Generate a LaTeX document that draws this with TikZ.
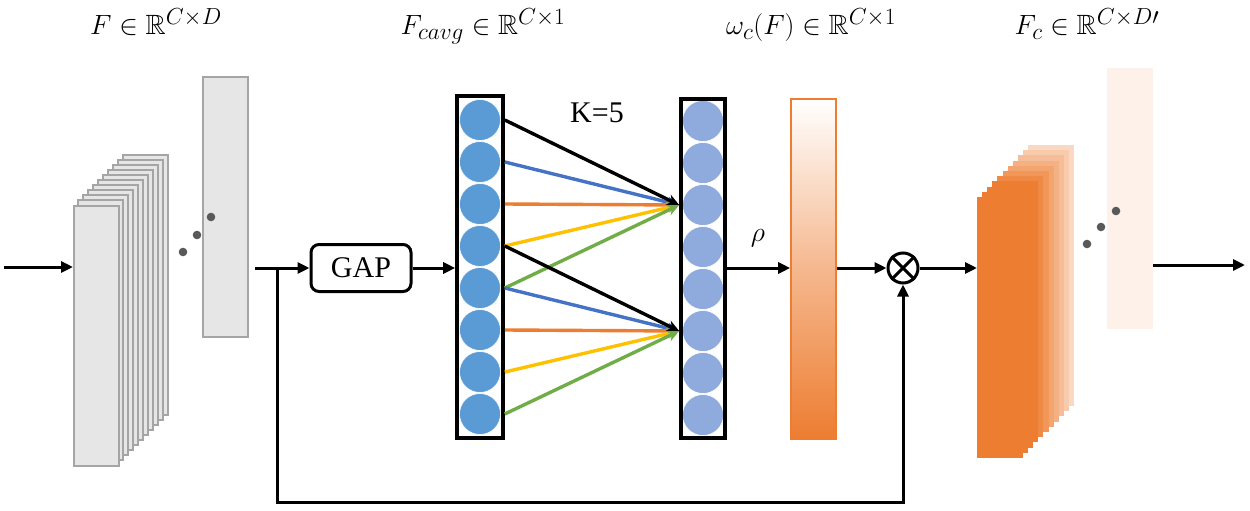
\documentclass[tikz,border=0pt]{standalone}
\usepackage{amssymb}
\usepackage{fontspec}
\newfontfamily\timesf{Liberation Serif}
\usetikzlibrary{arrows.meta,calc}
\definecolor{gfill}{HTML}{E7E6E6}
\definecolor{gline}{HTML}{A5A5A5}
\definecolor{cblue}{HTML}{5B9BD5}
\definecolor{lblue}{HTML}{8FAADC}
\definecolor{aorange}{HTML}{ED7D31}
\definecolor{ablue}{HTML}{4472C4}
\definecolor{ayellow}{HTML}{FFC000}
\definecolor{agreen}{HTML}{70AD47}
\definecolor{dotc}{HTML}{595959}
\definecolor{faint}{HTML}{FDF1EA}
\tikzset{
  sheet/.style={draw=gline, fill=gfill, line width=1.8pt},
  arr/.style={line width=3pt, -{Triangle[length=12pt,width=11pt]}},
  carr/.style={line width=3.4pt, -{Stealth[length=12pt,width=11pt]}},
  ln/.style={line width=3pt},
  colbox/.style={draw, line width=3.6pt, inner sep=0pt},
  ball/.style={circle, inner sep=0pt, minimum size=41pt},
  lab/.style={anchor=base, font=\fontsize{24.88}{30}\selectfont, transform shape, scale=1.12},
  ttext/.style={font=\timesf\fontsize{30}{34}\selectfont}
}
\begin{document}
\begin{tikzpicture}[x=1pt,y=-1pt]
\useasboundingbox (0,0) rectangle (1250,511);

% labels
\node[lab] (lab1) at (156,35) {$F \in \mathbb{R}^{C\times D}$};
\node[lab] (lab2) at (483,35) {$F_{cavg} \in \mathbb{R}^{C\times 1}$};
\node[lab] (lab3) at (811,35) {$\omega_c(F) \in \mathbb{R}^{C\times 1}$};
\node[lab] (lab4) at (1087,35) {$F_c \in \mathbb{R}^{C\times D\prime}$};

% left gray stack
\foreach \i in {10,...,1} {
  \draw[sheet] ($(73,205)+(5*\i,-5*\i)$) rectangle +(45,260);
}
\node[sheet, anchor=north west, inner sep=0pt, minimum width=45pt, minimum height=260pt] (f0) at (73,205) {};
\node[sheet, anchor=north west, inner sep=0pt, minimum width=45pt, minimum height=260pt] (gbar) at (202,76) {};
\fill[dotc] (183,252) circle (4.3) (197,235) circle (4.3) (211,217) circle (4.3);

\coordinate (in) at (4,267);
\draw[arr] (in) -- (in -| f0.west);

% GAP
\node[draw, ln, rounded corners=8pt, minimum width=100pt, minimum height=47pt, inner sep=0pt, ttext] (gap) at (361,268) {GAP};
\coordinate (gout) at (255,268);
\coordinate (split) at (277,268);
\coordinate (lb) at (277,502);

% left column
\foreach \k in {1,...,8} {
  \node[ball, fill=cblue, draw=white, line width=0.6pt] (l\k) at (480,{120+42*(\k-1)}) {};
}
\node[colbox, minimum width=46pt, minimum height=342pt] (lcol) at (480,267) {};

% right column
\foreach \k in {1,...,8} {
  \node[ball, fill=lblue, draw=white, line width=0.6pt] (r\k) at (703,{121+42*(\k-1)}) {};
}
\node[colbox, minimum width=44pt, minimum height=339pt] (rcol) at (703,268.5) {};

\node[ttext, anchor=base] (k5) at (597,122) {K=5};

% connections
\draw[carr, ablue]   (lcol.east |- l2) -- (rcol.west |- r3);
\draw[carr, aorange] (lcol.east |- l3) -- (rcol.west |- r3);
\draw[carr, ayellow] (lcol.east |- l4) -- (rcol.west |- r3);
\draw[carr, agreen]  (lcol.east |- l5) -- (rcol.west |- r3);
\draw[carr, black]   (lcol.east |- l1) -- (rcol.west |- r3);
\draw[carr, ablue]   (lcol.east |- l5) -- (rcol.west |- r6);
\draw[carr, aorange] (lcol.east |- l6) -- (rcol.west |- r6);
\draw[carr, ayellow] (lcol.east |- l7) -- (rcol.west |- r6);
\draw[carr, agreen]  (lcol.east |- l8) -- (rcol.west |- r6);
\draw[carr, black]   (lcol.east |- l4) -- (rcol.west |- r6);

% orange bar
\node[draw=aorange, line width=1.6pt, top color=white, bottom color=aorange, middle color=aorange!55!white, minimum width=45pt, minimum height=340pt, inner sep=0pt] (obar) at (813.5,269) {};
\node[font=\fontsize{24.88}{30}\selectfont, transform shape, scale=1.12] (rho) at (758,238) {$\rho$};

% otimes
\node[circle, draw, ln, minimum size=30pt, inner sep=0pt] (ot) at (903,268) {};
\draw[ln] (ot.north west) -- (ot.south east) (ot.north east) -- (ot.south west);

% right orange stack
\foreach \i in {10,...,1} {
  \pgfmathtruncatemacro\pc{100-10*max(0,\i-3)}
  \fill[aorange!\pc!white] ($(977,197)+(5.1*\i,-5.2*\i)$) rectangle +(46,261);
}
\node[fill=aorange, anchor=north west, inner sep=0pt, minimum width=46pt, minimum height=261pt] (rs0) at (977,197) {};
\node[fill=faint, anchor=north west, inner sep=0pt, minimum width=46pt, minimum height=261pt] (fbar) at (1107,68) {};
\fill[dotc] (1087,244) circle (4.3) (1101,227) circle (4.3) (1116,211) circle (4.3);

% arrows
\draw[arr] (gout) -- (gap.west);
\draw[arr] (gap.east) -- (lcol.west |- gap.east);
\draw[arr] (split) -- (lb) -| (ot.south);
\draw[arr] (rcol.east |- ot) -- (obar.west |- ot);
\draw[arr] (obar.east |- ot) -- (ot.west);
\draw[arr] (ot.east) -- (ot -| rs0.west);
\coordinate (out) at (1245,265);
\draw[arr] (out -| fbar.east) -- (out);
\end{tikzpicture}
\end{document}
